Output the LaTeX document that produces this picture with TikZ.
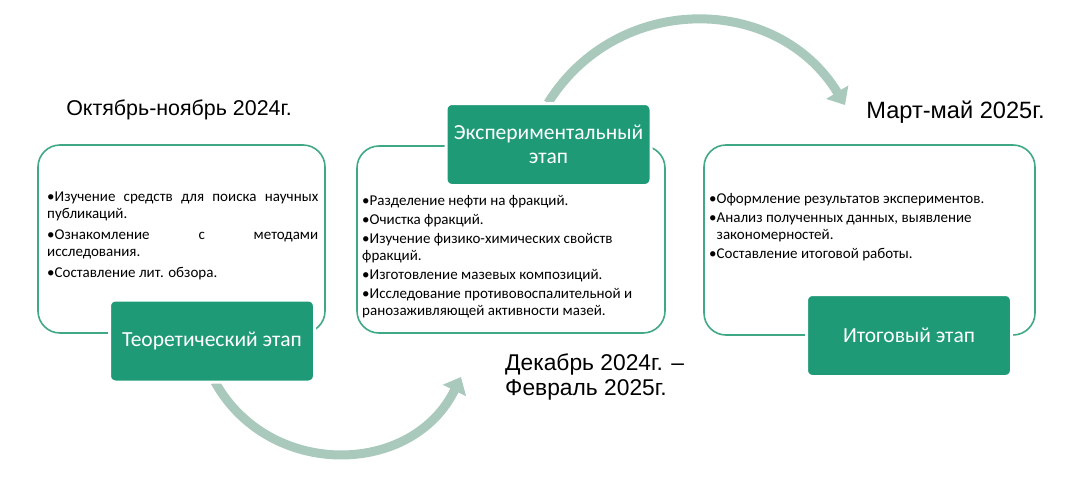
\documentclass[tikz,border=0pt]{standalone}
\usepackage{fontspec}
\setmainfont{Carlito}
\newfontfamily\datefont{Liberation Sans}
\usetikzlibrary{arrows.meta,positioning}
\definecolor{stagegreen}{HTML}{1F9A77}
\definecolor{rimgreen}{HTML}{3FA985}
\definecolor{sweepgray}{HTML}{A8C9BB}
\hbadness=10000

\begin{document}
\begin{tikzpicture}[x=1pt,y=-1pt,
  panel/.style={rectangle,draw=rimgreen,line width=1.6pt,fill=white,rounded corners=22pt},
  stagebox/.style={rectangle,draw=white,line width=3pt,fill=stagegreen,rounded corners=6pt,text=white,align=center,font=\fontsize{21.5}{24}\selectfont,minimum width=205pt,minimum height=82pt},
  items/.style={anchor=north west,align=left,inner sep=0pt,font=\fontsize{15}{17}\selectfont},
  period/.style={inner sep=0pt,font=\datefont\fontsize{21.4}{25}\selectfont},
  sweep/.style={draw=sweepgray,line width=9pt,-{Triangle[length=15pt,width=25pt]}}
]
\useasboundingbox (0,0) rectangle (1083,479);
% arrows between the stages
\coordinate (lowstart) at (215,382);
\coordinate (lowend) at (461,377);
\coordinate (upstart) at (548,103);
\coordinate (upend) at (845,105);
\draw[sweep] (lowstart) .. controls (269,479) and (412,477) .. (lowend);
\draw[sweep] (upstart) .. controls (617,-8) and (777,-7) .. (upend);
% panels
\node[panel,minimum width=287pt,minimum height=188pt] (theorypanel) at (181.5,239) {};
\node[panel,minimum width=308pt,minimum height=187pt] (exppanel) at (511,239.5) {};
\node[panel,minimum width=331pt,minimum height=190pt] (finalpanel) at (869.5,240) {};
% stage labels
\node[stagebox] (theory) at (212,341) {Теоретический этап};
\node[stagebox] (exp) at (548.5,144.5) {Экспериментальный\\этап};
\node[stagebox] (final) at (909,335.5) {Итоговый этап};
% tasks
\node[items,align=justify,text width=271pt] (theorytasks) at (47,192)
  {•Изучение средств для поиска научных\linebreak публикаций.\par\vspace{4pt}
   •Ознакомление с методами\linebreak исследования.\par\vspace{4pt}
   •Составление лит. обзора.};
\node[items] (exptasks) at (362,195)
  {•Разделение нефти на фракций.\\[2pt]
   •Очистка фракций.\\[2pt]
   •Изучение физико-химических свойств\\
   фракций.\\[2pt]
   •Изготовление мазевых композиций.\\[2pt]
   •Исследование противовоспалительной и\\
   ранозаживляющей активности мазей.};
\node[items] (finaltasks) at (709,193)
  {•Оформление результатов экспериментов.\\[2pt]
   •Анализ полученных данных, выявление\\
   \phantom{•}закономерностей.\\[2pt]
   •Составление итоговой работы.};
% periods
\node[period] (theorydate) at (179,110) {Октябрь-ноябрь 2024г.};
\node[period,font=\datefont\fontsize{23.6}{25}\selectfont] (finaldate) at (955.5,112) {Март-май 2025г.};
\node[period,anchor=west,align=left,font=\datefont\fontsize{22.8}{25}\selectfont] (expdate) at (505,377) {Декабрь 2024г. –\\Февраль 2025г.};
\end{tikzpicture}
\end{document}
